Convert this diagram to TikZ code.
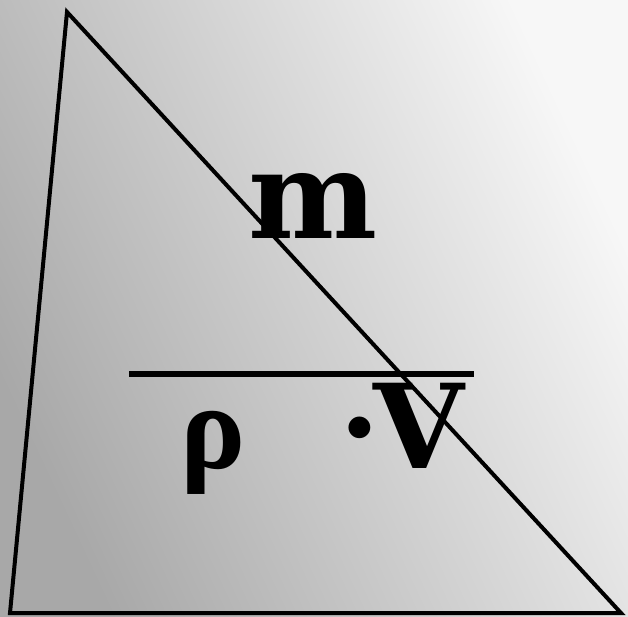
\documentclass[tikz,border=0pt]{standalone}
\usepackage{fontspec}
\setmainfont{DejaVu Serif}
\newfontfamily\rhofont{Liberation Serif}
\tikzset{
  edge/.style={line width=4pt, line join=miter},
  bar/.style={line width=6pt},
  lbl/.style={font=\fontsize{122}{130}\selectfont\bfseries, inner sep=0pt, anchor=base}
}
\begin{document}
\begin{tikzpicture}[x=1pt,y=-1pt]
\useasboundingbox (0,0) rectangle (628,616);
\shade[bottom color=black!34, top color=black!3, shading angle=-65] (0,0) rectangle (628,616);
\coordinate (A) at (67,12);
\coordinate (B) at (10,613);
\coordinate (C) at (621,613);
\draw[edge] (A) -- (B) -- (C) -- cycle;
\coordinate (L) at (129,374);
\coordinate (R) at (474,374);
\draw[bar] (L) -- (R);
\node[lbl] (m) at (313.5,238) {m};
\node[lbl] (rho) at (213.5,468) {\rhofont ρ};
\node[lbl, anchor=base west, font=\fontsize{117}{125}\selectfont\bfseries] (v) at (339,468) {·\kern-7pt V};
\end{tikzpicture}
\end{document}
